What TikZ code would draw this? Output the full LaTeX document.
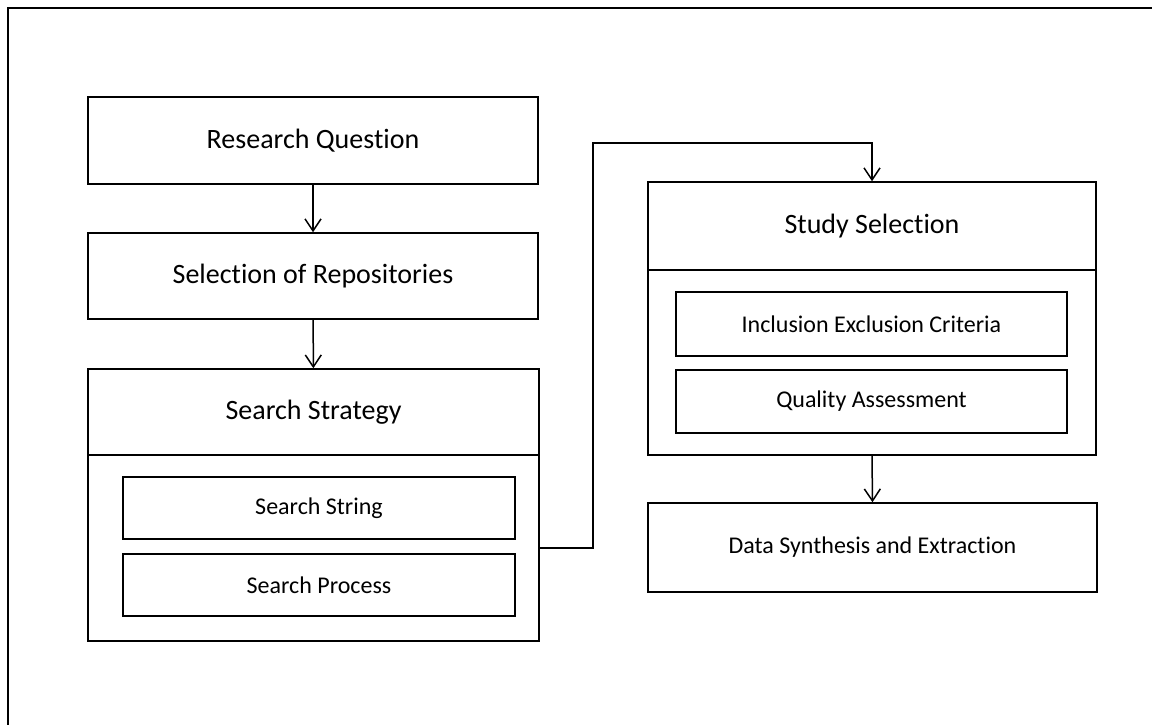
\documentclass[tikz,border=0pt]{standalone}
\usepackage{fontspec}
\setmainfont{Carlito}[Ligatures=NoCommon]
\usepackage{tikz}
\usetikzlibrary{shapes.geometric, arrows.meta}

\begin{document}
\begin{tikzpicture}[x=1pt, y=-1pt, line width=1.5pt,
    box/.style={draw, rectangle, inner sep=0pt, font=\fontsize{28}{32}\selectfont},
    subbox/.style={draw, rectangle, inner sep=0pt, font=\fontsize{24}{28}\selectfont},
    flow/.style={-{Straight Barb[length=12pt, width=16pt, line width=1.5pt]}}
    ]
    \useasboundingbox (0,0) rectangle (1152,725);
    \clip (0,0) rectangle (1152,725);
    \draw[line width=2pt] (8,760) -- (8,8) -- (1200,8);

    \node[box, minimum width=450, minimum height=87] (question) at (313,140.5) {Research Question};
    \node[box, minimum width=450, minimum height=86] (repos) at (313,276) {Selection of Repositories};
    \node[box, minimum width=451, minimum height=86] (strategy) at (313.5,412) {Search Strategy};
    \node[box, minimum width=451, minimum height=186] (strategybody) at (313.5,548) {};
    \node[subbox, minimum width=392, minimum height=62] (string) at (319,508) {Search String};
    \node[subbox, minimum width=392, minimum height=62] (process) at (319,585) {Search Process};

    \node[box, minimum width=448, minimum height=88] (selection) at (872,226) {Study Selection};
    \node[box, minimum width=448, minimum height=185] (selectionbody) at (872,362.5) {};
    \node[subbox, minimum width=391, minimum height=64] (criteria) at (871.5,324) {Inclusion Exclusion Criteria};
    \node[subbox, minimum width=391, minimum height=63] (quality) at (871.5,401.5) {Quality Assessment};
    \node[subbox, minimum width=449, minimum height=89] (synthesis) at (872.5,547.5) {Data Synthesis and Extraction};

    \coordinate (bend) at (593,143);

    \draw[flow] (question) -- (repos);
    \draw[flow] (repos) -- (strategy);
    \draw[flow] (strategybody.east) -| (bend) -| (selection.north);
    \draw[flow] (selectionbody.south) -- (synthesis.north);
\end{tikzpicture}
\end{document}
